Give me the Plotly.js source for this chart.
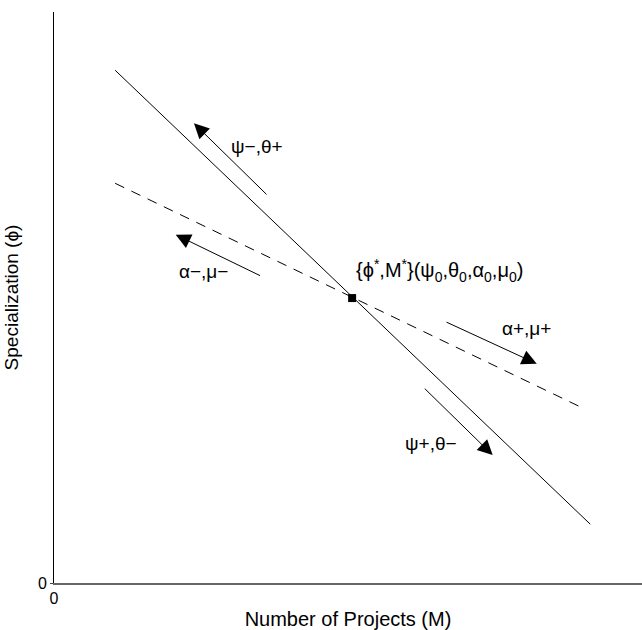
<!DOCTYPE html>
<html>
<head>
<meta charset="utf-8">
<script src="https://cdn.plot.ly/plotly-3.0.1.min.js"></script>
<style>html,body{margin:0;padding:0;background:#fff;}#chart{width:642px;height:630px;}</style>
</head>
<body>
<div id="chart"></div>
<script>
// Solid line (psi/theta locus)
const solidX = [0.104, 0.912];
const solidY = [0.898, 0.103];
// Dashed line (alpha/mu locus)
const dashX = [0.104, 0.898];
const dashY = [0.700, 0.307];
// Equilibrium point
const eqX = [0.507];
const eqY = [0.499];
// Arrows: tail -> head
const arrowTailX = [0.364, 0.353, 0.665, 0.628];
const arrowTailY = [0.678, 0.537, 0.458, 0.343];
const arrowHeadX = [0.238, 0.207, 0.821, 0.746];
const arrowHeadY = [0.805, 0.610, 0.384, 0.224];
// Labels
const labelText = ["ψ−,θ+", "α−,μ−", "α+,μ+", "ψ+,θ−"];
const labelX = [0.345, 0.254, 0.803, 0.641];
const labelY = [0.764, 0.545, 0.445, 0.245];
const eqLabel = "{ϕ<sup>*</sup>,M<sup>*</sup>}(ψ<sub>0</sub>,θ<sub>0</sub>,α<sub>0</sub>,μ<sub>0</sub>)";
const tickVals = [0];
const tickText = ["0"];

const fam = "Liberation Sans, Arial, DejaVu Sans, sans-serif";
const lfont = {family: fam, size: 19, color: "#000"};
const xtfont = {family: fam, size: 20, color: "#000"};
const ytfont = {family: fam, size: 19, color: "#000"};
const eqfont = {family: fam, size: 20, color: "#000"};
const tfont = {family: fam, size: 16, color: "#000"};

const traces = [
  {x: solidX, y: solidY, mode: "lines", line: {color: "#000", width: 1}, hoverinfo: "skip"},
  {x: dashX, y: dashY, mode: "lines", line: {color: "#000", width: 1, dash: "10px,8px"}, hoverinfo: "skip"},
  {x: eqX, y: eqY, mode: "markers", marker: {symbol: "square", size: 8, color: "#000"}, hoverinfo: "skip"}
];

const annotations = [];
for (let i = 0; i < arrowHeadX.length; i++) {
  annotations.push({
    x: arrowHeadX[i], y: arrowHeadY[i], ax: arrowTailX[i], ay: arrowTailY[i],
    xref: "x", yref: "y", axref: "x", ayref: "y",
    text: "", showarrow: true, arrowhead: 2, arrowsize: 3, arrowwidth: 1, arrowcolor: "#000"
  });
}
for (let i = 0; i < labelText.length; i++) {
  annotations.push({x: labelX[i], y: labelY[i], xref: "x", yref: "y", text: labelText[i],
    showarrow: false, font: lfont});
}
annotations.push({x: 0.510, y: 0.548, xref: "x", yref: "y", text: eqLabel, showarrow: false,
  xanchor: "left", font: eqfont});

const layout = {
  width: 642, height: 630,
  margin: {l: 54, r: 0, t: 12, b: 47},
  showlegend: false,
  paper_bgcolor: "#fff", plot_bgcolor: "#fff",
  font: lfont,
  xaxis: {range: [0, 1], showgrid: false, zeroline: false, showline: true, linecolor: "#666", linewidth: 2,
    tickvals: tickVals, ticktext: tickText, ticks: "", tickfont: tfont,
    title: {text: "Number of Projects (M)", font: xtfont, standoff: 8}},
  yaxis: {range: [0, 1], showgrid: false, zeroline: false, showline: true, linecolor: "#000", linewidth: 1,
    tickvals: tickVals, ticktext: tickText, ticks: "outside", ticklen: 3, tickfont: tfont,
    title: {text: "Specialization (ϕ)", font: ytfont, standoff: 14}},
  annotations: annotations
};

Plotly.newPlot("chart", traces, layout, {displayModeBar: false, staticPlot: true});
</script>
</body>
</html>
